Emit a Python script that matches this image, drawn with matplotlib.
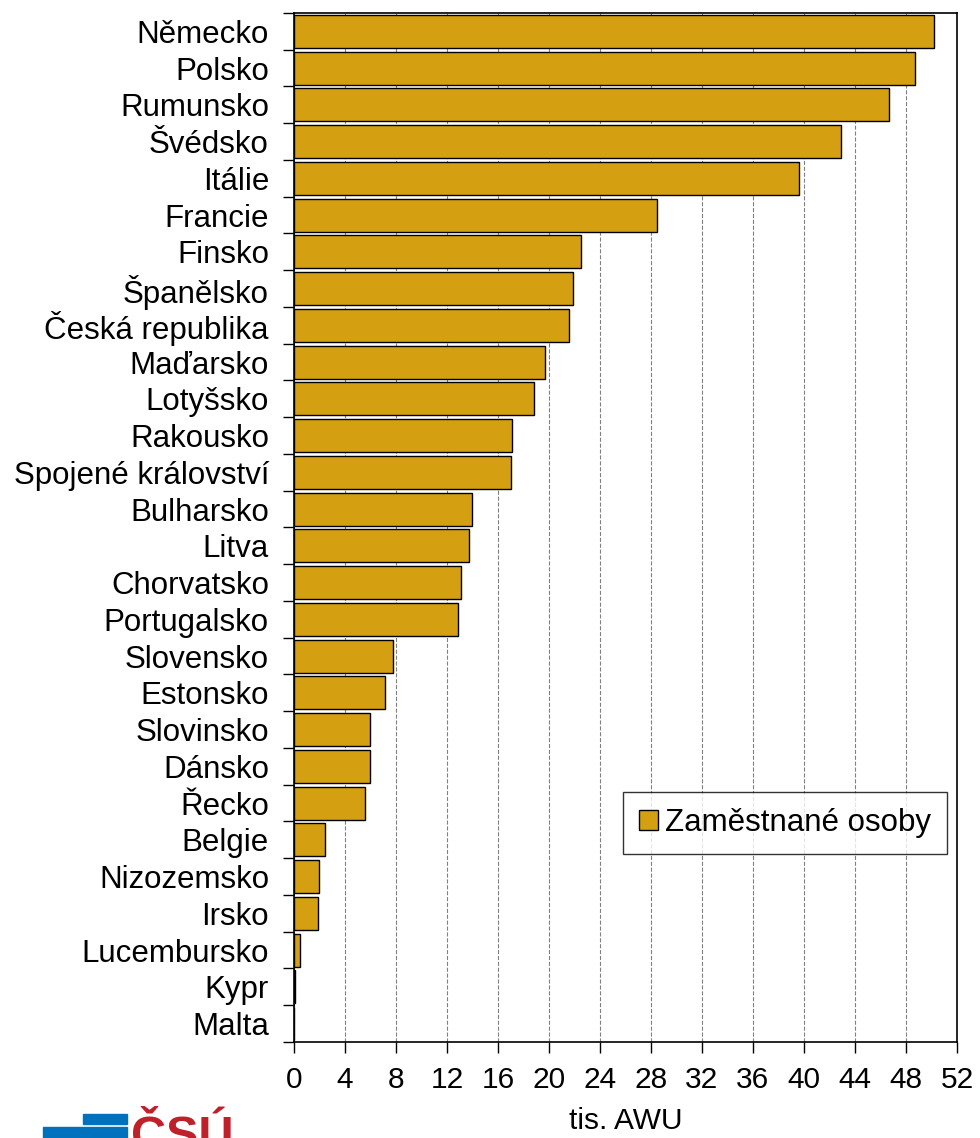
import matplotlib
matplotlib.use('Agg')
import matplotlib.pyplot as plt
import matplotlib.patches as mpatches
import numpy as np

plt.rcParams['font.family'] = ['Liberation Sans', 'DejaVu Sans']

countries = ['Německo', 'Polsko', 'Rumunsko', 'Švédsko', 'Itálie', 'Francie',
             'Finsko', 'Španělsko', 'Česká republika', 'Maďarsko', 'Lotyšsko',
             'Rakousko', 'Spojené království', 'Bulharsko', 'Litva', 'Chorvatsko',
             'Portugalsko', 'Slovensko', 'Estonsko', 'Slovinsko', 'Dánsko', 'Řecko',
             'Belgie', 'Nizozemsko', 'Irsko', 'Lucembursko', 'Kypr', 'Malta']
employed = [50.2, 48.7, 46.7, 42.9, 39.6, 28.5,
            22.5, 21.9, 21.6, 19.7, 18.8,
            17.1, 17.0, 14.0, 13.7, 13.1,
            12.9, 7.8, 7.1, 6.0, 6.0, 5.6,
            2.4, 2.0, 1.9, 0.5, 0.1, 0.0]
xticks = list(range(0, 53, 4))

bar_color = '#D4A012'

fig = plt.figure(figsize=(9.8, 11.38), dpi=100)
ax = fig.add_axes([0.3, 0.0844, 0.6765, 0.9042])

y = np.arange(len(countries))
ax.barh(y, employed, height=0.9, color=bar_color, edgecolor='black',
        linewidth=1.0, label='Zaměstnané osoby', zorder=3)
ax.set_ylim(len(countries) - 0.5, -0.5)
ax.set_xlim(0, 52)

ax.set_xticks(xticks)
ax.set_xticklabels([str(t) for t in xticks], fontsize=21.5)
ax.set_yticks(y)
ax.set_yticklabels(countries, fontsize=22.5)
ax.tick_params(axis='y', length=0, pad=18)
ax.set_yticks(np.arange(-0.5, len(countries), 1), minor=True)
ax.tick_params(axis='y', which='minor', length=8, width=1)
ax.tick_params(axis='x', length=8, width=1, pad=9)

ax.grid(axis='x', linestyle='--', color='#808080', linewidth=0.8, zorder=0)
for s in ax.spines.values():
    s.set_linewidth(1.2)

ax.set_xlabel('tis. AWU', fontsize=21.5, labelpad=10)

leg = ax.legend(loc='lower right', bbox_to_anchor=(0.985, 0.183), fontsize=22.5,
                frameon=True, fancybox=False, handlelength=0.6, handleheight=0.6,
                handletextpad=0.25, borderpad=0.5, borderaxespad=0)
leg.get_frame().set_edgecolor('black')
leg.get_frame().set_linewidth(1.0)

# logo
fig.patches.append(mpatches.Rectangle((83 / 980, 1 - 1124 / 1138), 44 / 980, 10 / 1138,
                                      transform=fig.transFigure, color='#0071BC'))
fig.patches.append(mpatches.Rectangle((43 / 980, 1 - 1138 / 1138), 84 / 980, 11 / 1138,
                                      transform=fig.transFigure, color='#0071BC'))
fig.text(131 / 980, 1 - 1150 / 1138, 'ČSÚ', color='#C0202A', fontsize=35,
         fontweight='bold', ha='left', va='baseline')

fig.savefig('out.png', dpi=100)
